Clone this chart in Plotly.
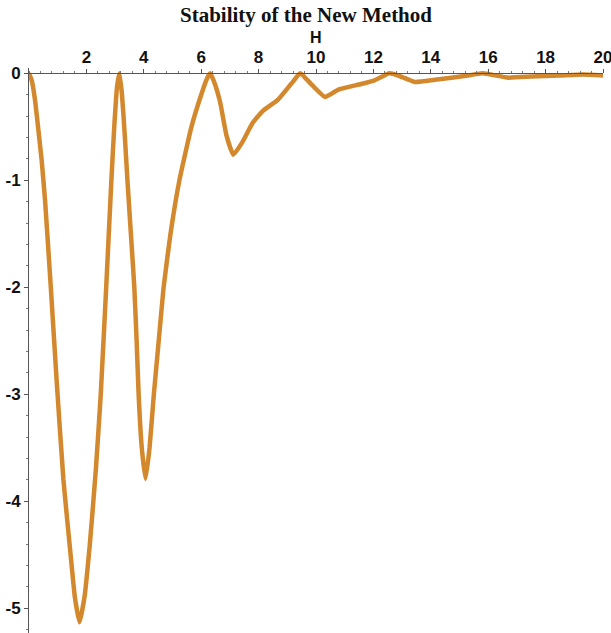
import plotly.graph_objects as go

# Data
h_values = [0.0, 0.1, 0.21, 0.44, 0.56, 0.76, 0.97, 1.2, 1.45, 1.6, 1.76,
            1.93, 2.12, 2.33, 2.5, 2.69, 2.87, 2.97, 3.07, 3.15,
            3.24, 3.33, 3.43, 3.55, 3.67, 3.75, 3.82, 3.93, 4.06, 4.2, 4.35, 4.52, 4.69,
            4.93, 5.24, 5.66, 6.0, 6.2, 6.31,
            6.45, 6.66, 6.88, 7.12, 7.42, 7.8, 8.15, 8.66, 9.13, 9.45,
            9.65, 9.94, 10.31, 10.8, 11.57, 12.04, 12.56, 12.86, 13.44, 14.14,
            15.3, 15.8, 16.7, 17.5, 18.5, 19.3, 20.0]
stability = [0.0, -0.07, -0.25, -0.81, -1.19, -2.0, -2.9, -3.8, -4.5, -4.9, -5.13,
             -4.9, -4.4, -3.7, -3.0, -2.0, -1.0, -0.5, -0.12, 0.0,
             -0.2, -0.55, -1.0, -1.5, -2.0, -2.5, -3.0, -3.5, -3.79, -3.5, -3.0, -2.5, -2.0,
             -1.5, -1.0, -0.5, -0.2, -0.05, 0.0,
             -0.08, -0.27, -0.58, -0.76, -0.65, -0.46, -0.35, -0.25, -0.1, 0.0,
             -0.05, -0.13, -0.22, -0.15, -0.1, -0.065, 0.0, -0.02, -0.08, -0.06,
             -0.02, 0.0, -0.04, -0.03, -0.02, -0.01, -0.02]

x_tickvals = [2, 4, 6, 8, 10, 12, 14, 16, 18, 20]
y_tickvals = [0, -1, -2, -3, -4, -5]

title_text = "Stability of the New Method"
x_label = "H"

y_range = [-5.23, 0.05]
dom_lo, dom_hi = 0.0, 1.0
zero_pos = dom_lo + (0 - y_range[0]) / (y_range[1] - y_range[0]) * (dom_hi - dom_lo)

fig = go.Figure()
fig.add_trace(go.Scatter(
    x=h_values, y=stability, mode="lines",
    line=dict(color="#D4882D", width=4.5, shape="spline", smoothing=0.4),
    showlegend=False, hoverinfo="skip",
))

tick_font = dict(family="Liberation Sans Narrow, Liberation Sans, Arial, sans-serif", size=17, color="#111111")

fig.update_layout(
    width=611, height=633,
    margin=dict(l=29, r=8, t=68, b=0, autoexpand=False),
    paper_bgcolor="white", plot_bgcolor="white",
    xaxis=dict(
        range=[0, 20], anchor="free", position=zero_pos, side="top", automargin=False,
        ticklabeloverflow="allow",
        tickvals=x_tickvals, ticktext=[f"<b>{v}</b>" for v in x_tickvals],
        showline=True, linecolor="#555555", linewidth=1,
        ticks="outside", ticklen=4, tickcolor="#555555",
        minor=dict(dtick=0.4, tick0=0, ticks="outside", ticklen=2, tickcolor="#777777"),
        showgrid=False, zeroline=False, tickfont=tick_font,
    ),
    yaxis=dict(
        range=y_range, domain=[dom_lo, dom_hi], automargin=False,
        ticklabeloverflow="allow",
        tickvals=y_tickvals, ticktext=[f"<b>{v}</b>" for v in y_tickvals],
        showline=True, linecolor="#555555", linewidth=1,
        ticks="outside", ticklen=4, tickcolor="#555555",
        minor=dict(dtick=0.2, tick0=0, ticks="outside", ticklen=2, tickcolor="#777777"),
        showgrid=False, zeroline=False, tickfont=tick_font,
    ),
    annotations=[
        dict(text=f"<b>{title_text}</b>", xref="paper", yref="paper",
             x=0.482, y=1, yshift=68 - 15, yanchor="middle", showarrow=False,
             font=dict(family="Liberation Serif, Times New Roman, serif", size=21, color="#111111")),
        dict(text=f"<b>{x_label}</b>", xref="x", yref="paper",
             x=10, y=1, yshift=68 - 37, yanchor="middle", showarrow=False,
             font=dict(family="Liberation Sans, Arial, sans-serif", size=16, color="#111111")),
    ],
)

fig.write_html("out.html", config={"displayModeBar": False},
               post_script="document.body.style.margin='0';document.body.style.overflow='hidden';")
